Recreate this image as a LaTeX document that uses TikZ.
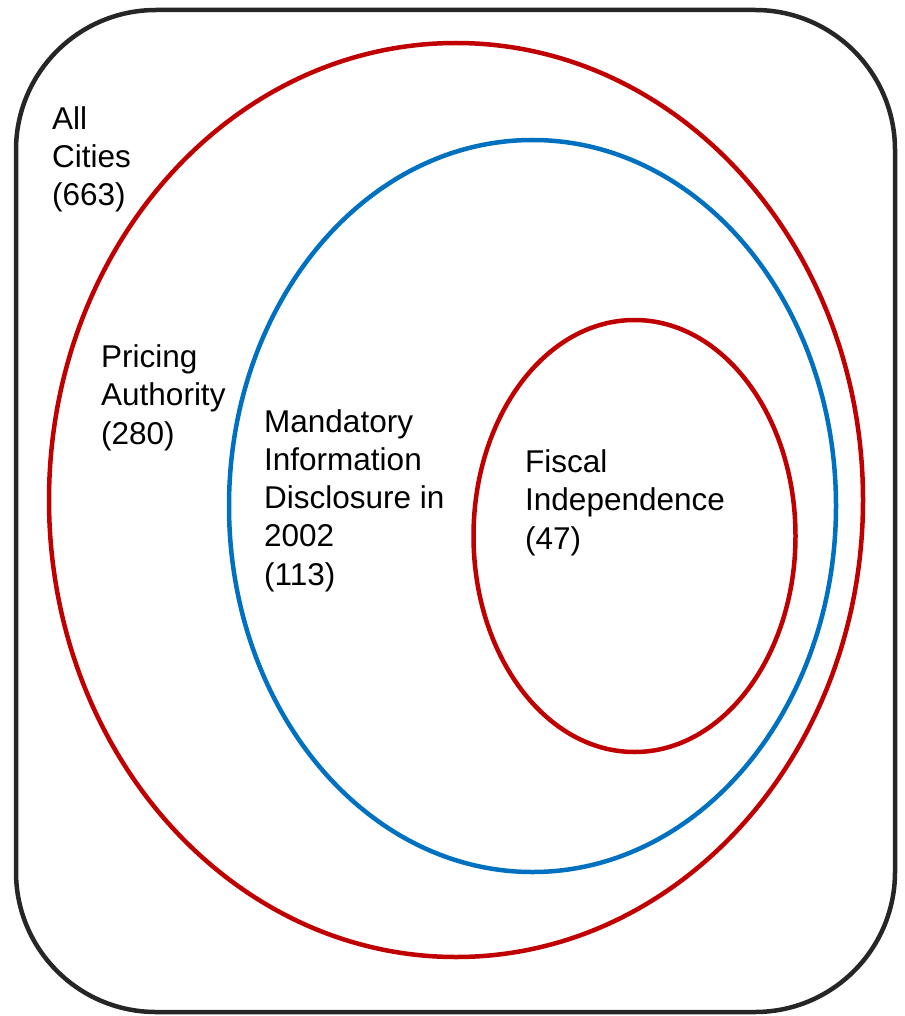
\documentclass[tikz,border=0pt]{standalone}
\usepackage{fontspec}
\setmainfont{Liberation Sans}
\definecolor{setred}{HTML}{C00000}
\definecolor{setblue}{HTML}{0070C0}
\definecolor{framegray}{HTML}{262626}
\begin{document}
\begin{tikzpicture}[x=1pt,y=-1pt]
    \tikzstyle{setline} = [line width=4.5pt]
    \tikzstyle{setlabel} = [anchor=base west, inner sep=0pt, align=left, font=\fontsize{31.5}{38.2}\selectfont]
    \useasboundingbox (0,0) rectangle (904,1016);

    % frame
    \draw[framegray, line width=4.5pt, rounded corners=140pt] (16,10) rectangle (895,1012);

    % sets
    \draw[setline,setred]  (456,500) ellipse [x radius=407, y radius=457];
    \draw[setline,setblue] (532.5,506) ellipse [x radius=303.5, y radius=366];
    \draw[setline,setred]  (634.5,536) ellipse [x radius=161, y radius=216];

    % labels (anchored at last line)
    \node[setlabel] (allcities) at (52,206)  {All\\Cities\\(663)};
    \node[setlabel] (pricing)   at (101,444) {Pricing\\Authority\\(280)};
    \node[setlabel] (mandatory) at (264,585) {Mandatory\\Information\\Disclosure in\\2002\\(113)};
    \node[setlabel] (fiscal)    at (525,549) {Fiscal\\Independence\\(47)};
\end{tikzpicture}
\end{document}
